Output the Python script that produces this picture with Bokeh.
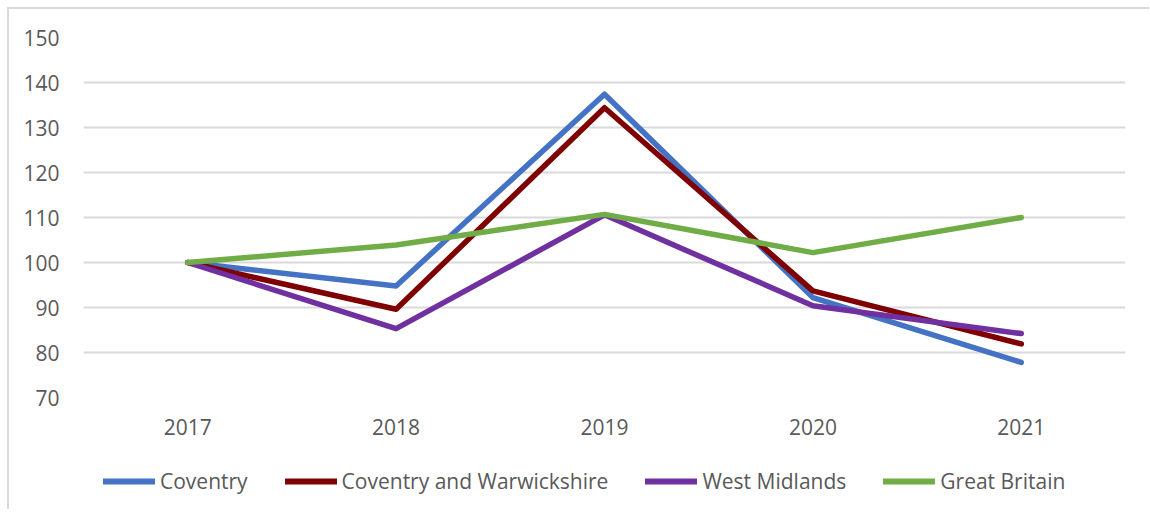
from bokeh.plotting import figure
from bokeh.layouts import column
from bokeh.models import Range1d, FactorRange, Legend, LegendItem, FixedTicker
from bokeh.embed import file_html
from bokeh.resources import INLINE

years = ["2017", "2018", "2019", "2020", "2021"]
coventry = [100, 94.8, 137.4, 92.2, 77.8]
cov_warks = [100, 89.6, 134.4, 93.7, 81.9]
west_midlands = [100, 85.3, 110.6, 90.4, 84.2]
great_britain = [100, 103.9, 110.7, 102.2, 110.0]
y_ticks = [70, 80, 90, 100, 110, 120, 130, 140, 150]

series = [
    ("Coventry", coventry, "#4472C4"),
    ("Coventry and Warwickshire", cov_warks, "#7F0000"),
    ("West Midlands", west_midlands, "#7030A0"),
    ("Great Britain", great_britain, "#70AD47"),
]

FONT = "Open Sans"
FS = "21px"
TXT = "#595959"

p = figure(
    x_range=FactorRange(*years, range_padding=0),
    y_range=Range1d(70, 150),
    width=1140, height=450,
    output_backend="svg", toolbar_location=None,
    min_border_left=74, min_border_right=24, min_border_top=28, min_border_bottom=62,
)
p.outline_line_color = None
p.background_fill_color = "white"
p.border_fill_color = "white"

for name, vals, color in series:
    p.line(years, vals, line_color=color, line_width=5.5,
           line_cap="round", line_join="round")

p.xgrid.grid_line_color = None
p.ygrid.grid_line_color = "#D9D9D9"
p.ygrid.grid_line_width = 1.8
p.yaxis.ticker = FixedTicker(ticks=y_ticks)

for ax in (p.xaxis[0], p.yaxis[0]):
    ax.axis_line_color = None
    ax.major_tick_line_color = None
    ax.minor_tick_line_color = None
    ax.major_label_text_font = FONT
    ax.major_label_text_font_size = FS
    ax.major_label_text_color = TXT
p.yaxis.major_label_standoff = 18
p.xaxis.major_label_standoff = 15

# legend strip below the chart (legend proxies hold a single NaN point)
lg = figure(width=1140, height=50, x_range=Range1d(0, 1), y_range=Range1d(0, 1),
            x_axis_type=None, y_axis_type=None,
            output_backend="svg", toolbar_location=None,
            min_border_left=0, min_border_right=0, min_border_top=0, min_border_bottom=0)
lg.outline_line_color = None
lg.xgrid.grid_line_color = None
lg.ygrid.grid_line_color = None
items = []
nan = float("nan")
for name, vals, color in series:
    r = lg.line([nan], [nan], line_color=color, line_width=6, line_cap="round")
    items.append(LegendItem(label=name, renderers=[r]))

legend = Legend(items=items, orientation="horizontal", location=(20, 14),
                glyph_width=52, glyph_height=28, label_standoff=5, spacing=37,
                padding=0, margin=0, border_line_color=None,
                label_text_font=FONT, label_text_font_size=FS,
                label_text_color=TXT, background_fill_alpha=0)
lg.add_layout(legend, "center")

layout = column(p, lg, spacing=0,
                styles={"border-top": "2px solid #D9D9D9", "border-left": "2px solid #D9D9D9",
                        "margin-top": "7px", "margin-left": "7px"})

open("out.html", "w").write(file_html(layout, INLINE))
